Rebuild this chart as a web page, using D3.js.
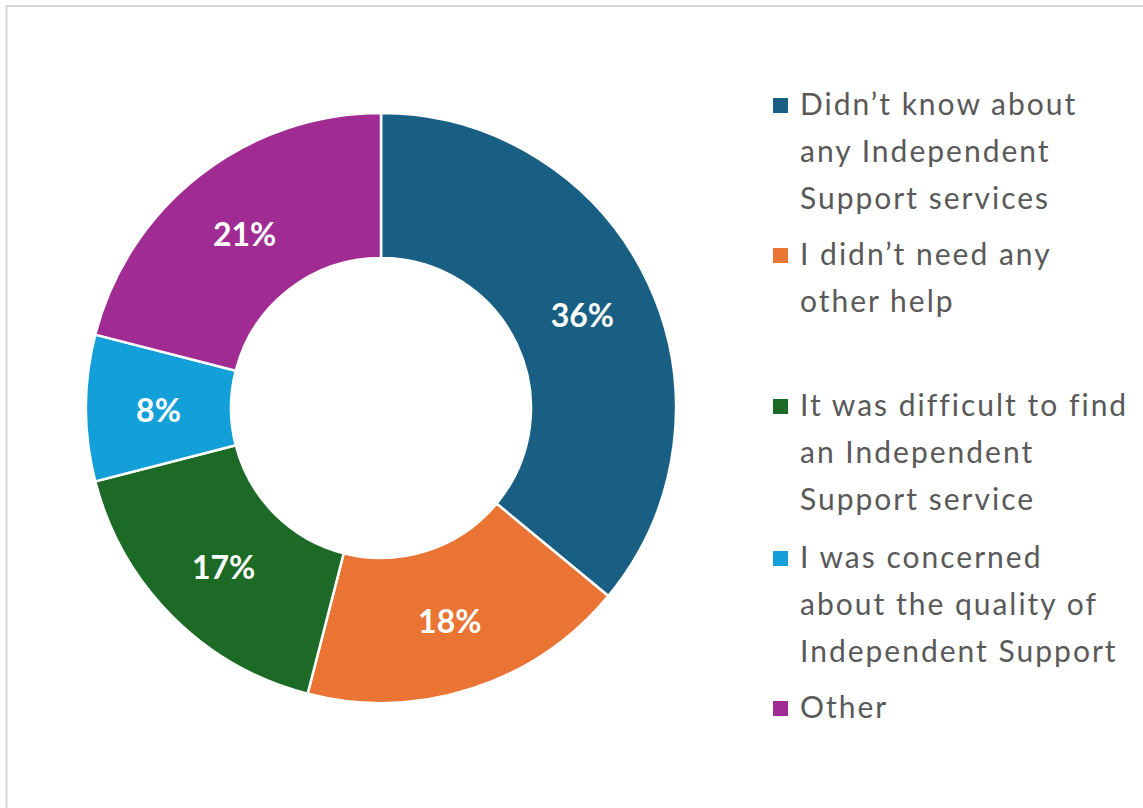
<!DOCTYPE html>
<html>
<head>
<meta charset="utf-8">
<script src="https://cdn.jsdelivr.net/npm/d3@7.9.0/dist/d3.min.js"></script>
<style>
  html, body { margin: 0; padding: 0; background: #fff; }
  svg { display: block; }
</style>
</head>
<body>
<svg id="chart" width="1143" height="808"></svg>
<script>
// --- data ---
const categories = [
  'Didn\u2019t know about any Independent Support services',
  'I didn\u2019t need any other help',
  'It was difficult to find an Independent Support service',
  'I was concerned about the quality of Independent Support',
  'Other'
];
const values = [36, 18, 17, 8, 21];
const legendLines = [
  ['Didn\u2019t know about', 'any Independent', 'Support services'],
  ['I didn\u2019t need any', 'other help'],
  ['It was difficult to find', 'an Independent', 'Support service'],
  ['I was concerned', 'about the quality of', 'Independent Support'],
  ['Other']
];
const colors = ['#185f83', '#ea7433', '#1c6a25', '#139fd7', '#a02b93'];

// --- layout ---
const cx = 381, cy = 408, outerR = 295, innerR = 150;
const legendTop = [115, 265, 416, 568, 718];   // first baseline of each entry
const lineH = 47;

const svg = d3.select('#chart');

// frame
svg.append('rect')
  .attr('x', 6.5).attr('y', 6).attr('width', 1150).attr('height', 820)
  .attr('fill', 'none').attr('stroke', '#d9d9d9').attr('stroke-width', 2);

const data = categories.map((c, i) => ({ label: c, value: values[i], color: colors[i] }));

const pie = d3.pie().value(d => d.value).sort(null);
const arc = d3.arc().innerRadius(innerR).outerRadius(outerR);
const arcs = pie(data);

const g = svg.append('g').attr('transform', `translate(${cx},${cy})`);

g.selectAll('path')
  .data(arcs)
  .join('path')
  .attr('d', arc)
  .attr('fill', d => d.data.color)
  .attr('stroke', '#fff')
  .attr('stroke-width', 2.5);

g.selectAll('text')
  .data(arcs)
  .join('text')
  .attr('transform', d => {
    const [x, y] = arc.centroid(d);
    return `translate(${x},${y + 2})`;
  })
  .attr('text-anchor', 'middle')
  .attr('dy', '0.36em')
  .attr('fill', '#fff')
  .attr('font-family', 'Lato, "Open Sans", sans-serif')
  .attr('font-weight', 'bold')
  .attr('font-size', 32)
  .text(d => d.data.value + '%');

// legend
const legend = svg.append('g');
legendLines.forEach((lines, i) => {
  const item = legend.append('g');
  item.append('rect')
    .attr('x', 773).attr('y', legendTop[i] - 17)
    .attr('width', 15).attr('height', 15)
    .attr('fill', colors[i]);
  const t = item.append('text')
    .attr('x', 800).attr('y', legendTop[i])
    .attr('fill', '#595959')
    .attr('font-family', 'Lato, "Open Sans", sans-serif')
    .attr('font-size', 30)
    .attr('letter-spacing', 2);
  lines.forEach((ln, j) => {
    t.append('tspan').attr('x', 800).attr('y', legendTop[i] + j * lineH).text(ln);
  });
});
</script>
</body>
</html>
